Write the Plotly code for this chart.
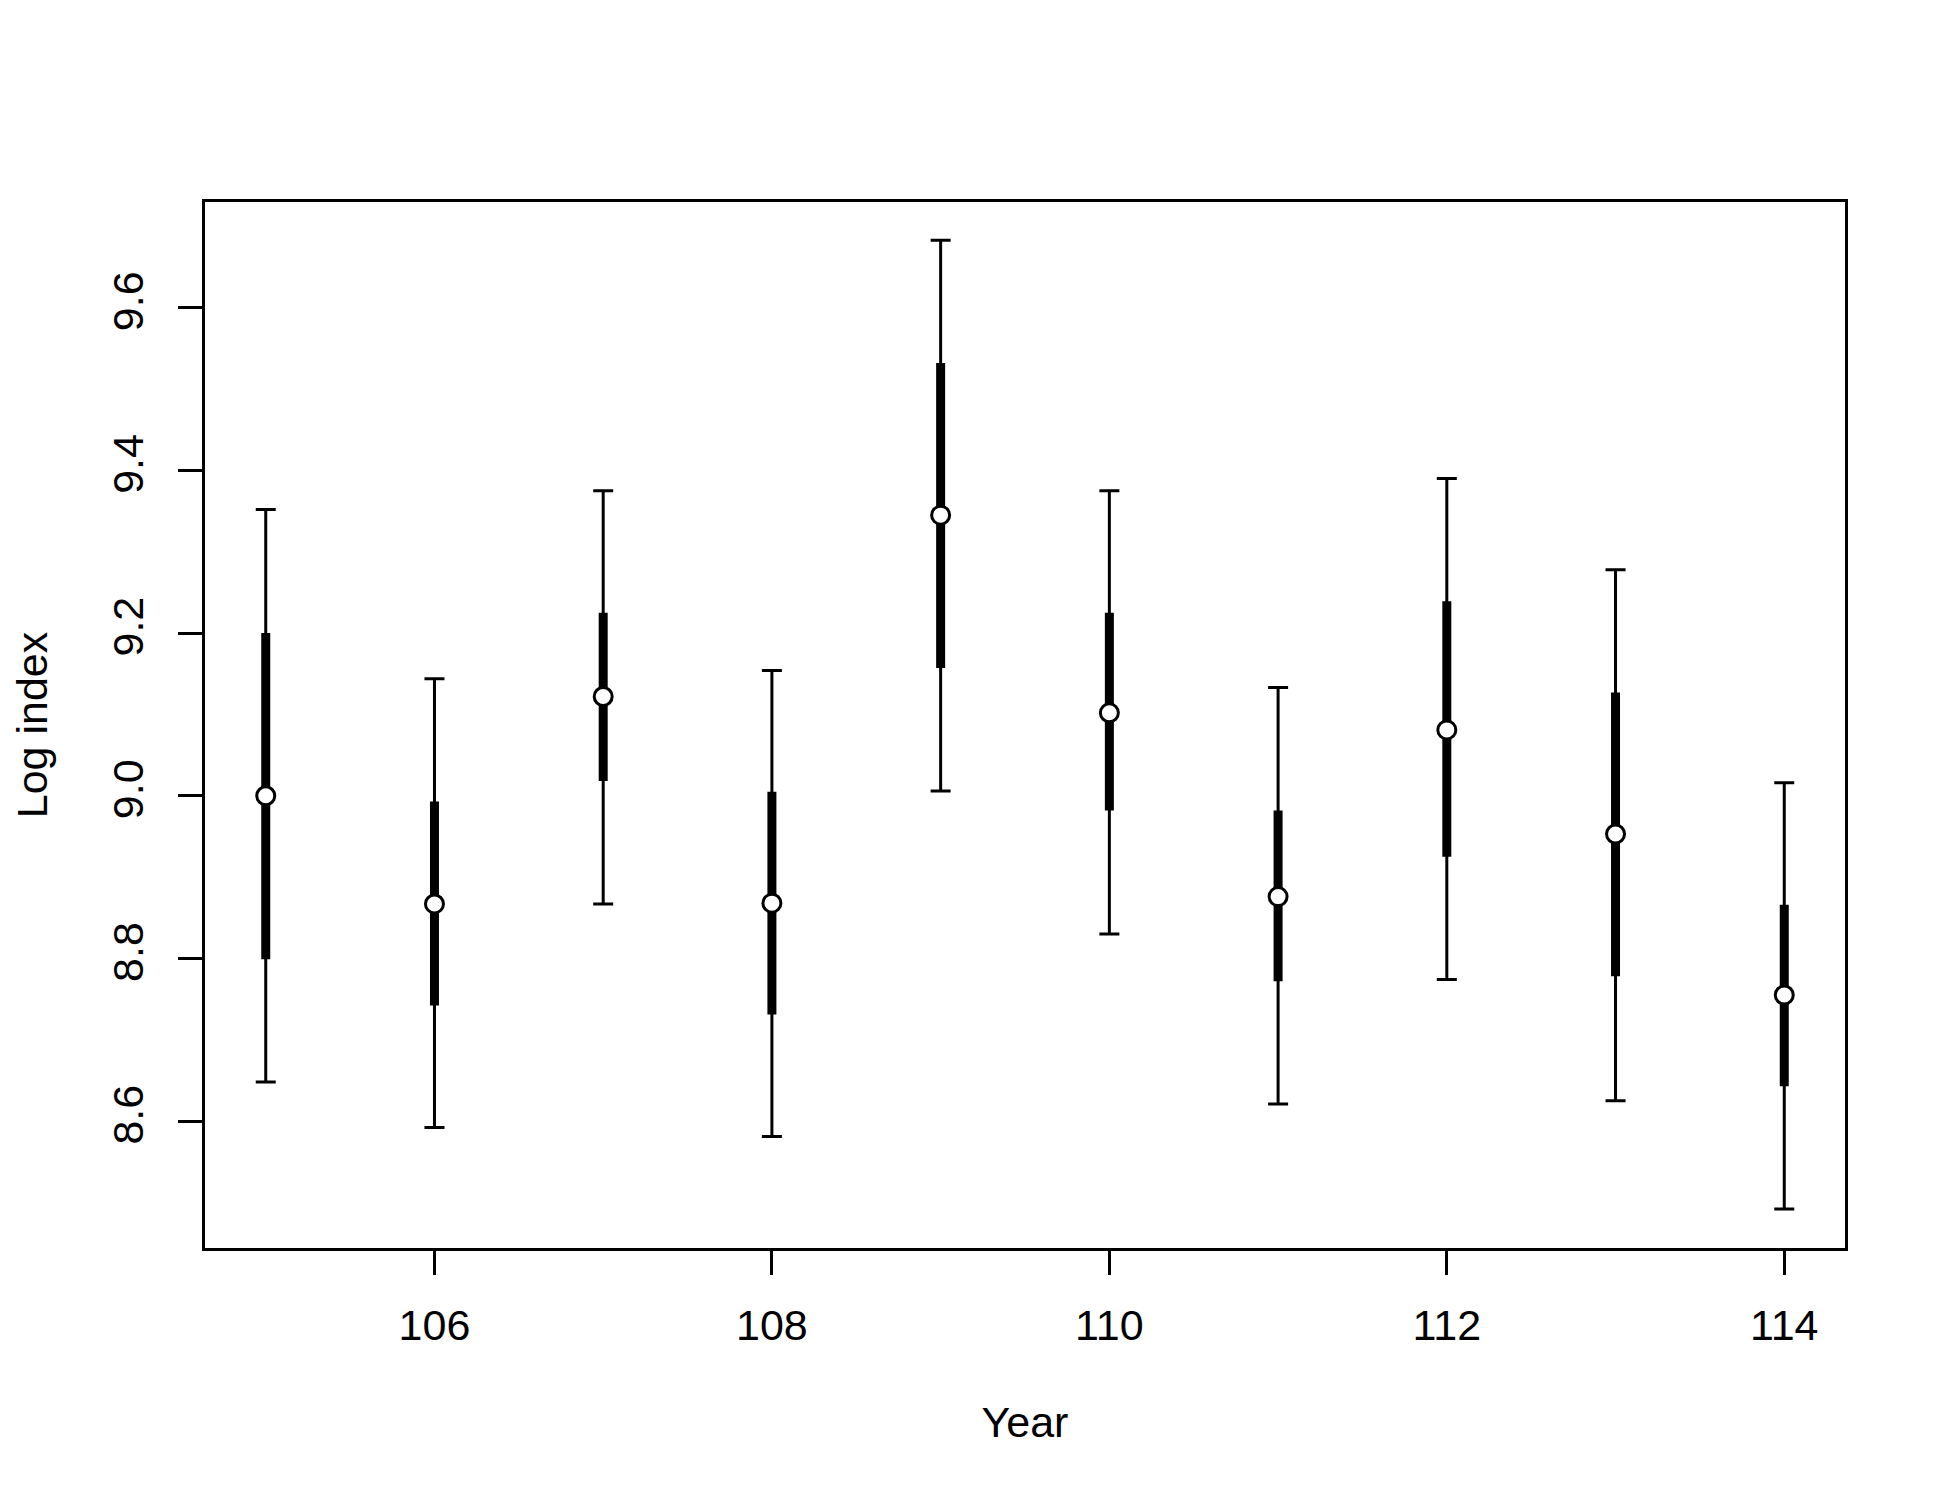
import plotly.graph_objects as go

years = [105, 106, 107, 108, 109, 110, 111, 112, 113, 114]
estimate = [9.000, 8.867, 9.122, 8.868, 9.345, 9.102, 8.876, 9.081, 8.953, 8.755]
lower_outer = [8.648, 8.592, 8.867, 8.581, 9.006, 8.830, 8.621, 8.774, 8.625, 8.492]
upper_outer = [9.352, 9.144, 9.375, 9.154, 9.683, 9.375, 9.133, 9.390, 9.278, 9.016]
lower_inner = [8.799, 8.742, 9.018, 8.731, 9.157, 8.982, 8.772, 8.925, 8.778, 8.643]
upper_inner = [9.200, 8.993, 9.225, 9.005, 9.532, 9.225, 8.982, 9.239, 9.127, 8.866]

x_ticks = [106, 108, 110, 112, 114]
y_ticks = [8.6, 8.8, 9.0, 9.2, 9.4, 9.6]

FONT = "Liberation Sans, Arial, sans-serif"
FS = 43

fig = go.Figure()

# thin outer interval with caps
fig.add_trace(go.Scatter(
    x=years, y=estimate, mode="markers",
    marker=dict(size=1, color="rgba(0,0,0,0)"),
    error_y=dict(type="data", symmetric=False,
                 array=[u - e for u, e in zip(upper_outer, estimate)],
                 arrayminus=[e - l for e, l in zip(estimate, lower_outer)],
                 color="black", thickness=3, width=10),
    showlegend=False, hoverinfo="skip"))

# thick inner interval
fig.add_trace(go.Scatter(
    x=years, y=estimate, mode="markers",
    marker=dict(size=1, color="rgba(0,0,0,0)"),
    error_y=dict(type="data", symmetric=False,
                 array=[u - e for u, e in zip(upper_inner, estimate)],
                 arrayminus=[e - l for e, l in zip(estimate, lower_inner)],
                 color="black", thickness=9, width=0),
    showlegend=False, hoverinfo="skip"))

# point estimates
fig.add_trace(go.Scatter(
    x=years, y=estimate, mode="markers",
    marker=dict(symbol="circle", size=18, color="white",
                line=dict(color="black", width=3)),
    showlegend=False))

fig.update_layout(
    width=1950, height=1500,
    margin=dict(l=192, r=113, t=194, b=260),
    paper_bgcolor="white", plot_bgcolor="white",
    font=dict(family=FONT, size=FS, color="black"),
    xaxis=dict(range=[104.64, 114.36], tickvals=x_ticks,
               ticks="outside", ticklen=24, tickwidth=2.7, tickcolor="black",
               showline=True, linecolor="black", linewidth=3, mirror=True,
               showgrid=False, zeroline=False,
               tickfont=dict(size=FS), ticklabelstandoff=13,
               title=dict(text="Year", font=dict(size=FS), standoff=60)),
    yaxis=dict(range=[8.444, 9.730], tickvals=y_ticks, tickformat=".1f",
               ticks="outside", ticklen=24, tickwidth=2.7, tickcolor="black",
               showline=True, linecolor="black", linewidth=3, mirror=True,
               showgrid=False, zeroline=False, tickangle=-90,
               tickfont=dict(size=FS), ticklabelstandoff=18,
               title=dict(text="Log index", font=dict(size=FS), standoff=54)),
)

fig.write_html("out.html")
